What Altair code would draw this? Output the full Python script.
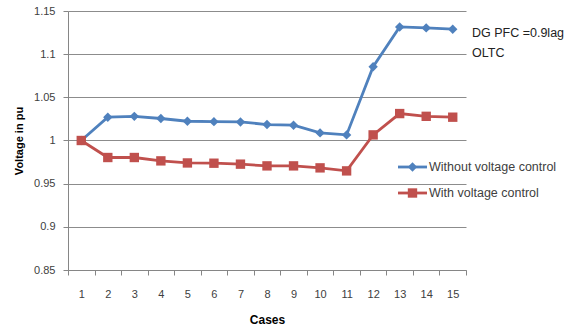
import altair as alt
import pandas as pd

cases = list(range(1, 16))
without_ctrl = [1.000, 1.027, 1.028, 1.0255, 1.0223, 1.0218, 1.0215, 1.0185, 1.0177,
                1.0088, 1.0065, 1.0855, 1.1315, 1.1304, 1.1289]
with_ctrl = [1.000, 0.9803, 0.9803, 0.9764, 0.974, 0.9737, 0.9726, 0.9706, 0.9706,
             0.9683, 0.9648, 1.0065, 1.0312, 1.028, 1.027]
series_names = ["Without voltage control", "With voltage control"]
colors = ["#4F81BD", "#C0504D"]
shapes = ["diamond", "square"]
y_ticks = [0.85, 0.9, 0.95, 1.0, 1.05, 1.1, 1.15]
notes = ["DG PFC =0.9lag", "OLTC"]

rows = []
for c, a, b in zip(cases, without_ctrl, with_ctrl):
    rows.append({"case": c, "series": series_names[0], "v": a})
    rows.append({"case": c, "series": series_names[1], "v": b})
df = pd.DataFrame(rows)

FONT = "Liberation Sans"

x = alt.X("case:O", title="Cases",
          scale=alt.Scale(paddingInner=0, paddingOuter=0),
          axis=alt.Axis(labelAngle=0, tickBand="extent", grid=False,
                        domainColor="#868686", tickColor="#868686", tickSize=5,
                        labelFont=FONT, labelFontSize=11, labelColor="#404040",
                        labelPadding=13, titleFont=FONT, titleFontSize=12,
                        titleFontWeight="bold", titleColor="#000000", titlePadding=15))
y = alt.Y("v:Q", title="Voltage in pu",
          scale=alt.Scale(domain=[0.85, 1.15], nice=False, zero=False),
          axis=alt.Axis(values=y_ticks, format="~g", gridColor="#8c8c8c", gridWidth=1,
                        domainColor="#868686", tickColor="#868686", tickSize=5,
                        labelFont=FONT, labelFontSize=11, labelColor="#404040",
                        labelPadding=8, titleFont=FONT, titleFontSize=11,
                        titleFontWeight="bold", titleColor="#000000", titlePadding=9))
color = alt.Color("series:N", scale=alt.Scale(domain=series_names, range=colors), legend=None)
shape = alt.Shape("series:N", scale=alt.Scale(domain=series_names, range=shapes), legend=None)

base = alt.Chart(df)
lines = base.mark_line(strokeWidth=2.8).encode(x=x, y=y, color=color, detail="series:N")
pts = base.mark_point(filled=True, opacity=1, size=88).encode(x=x, y=y, color=color, shape=shape)

# legend (manual, Excel style)
leg_layers = []
for i, (name, col, shp) in enumerate(zip(series_names, colors, shapes)):
    ly = 156 + 26 * i
    ldf = pd.DataFrame({"label": [name]})
    leg_layers.append(alt.Chart(ldf).mark_rule(color=col, strokeWidth=2.8).encode(
        x=alt.value(330), x2=alt.value(359), y=alt.value(ly)))
    leg_layers.append(alt.Chart(ldf).mark_point(filled=True, opacity=1, size=88, shape=shp,
                                                color=col).encode(
        x=alt.value(344.5), y=alt.value(ly)))
    leg_layers.append(alt.Chart(ldf).mark_text(align="left", baseline="middle", font=FONT,
                                               fontSize=12.5, color="#404040").encode(
        x=alt.value(361), y=alt.value(ly), text="label:N"))

note_layers = []
for i, t in enumerate(notes):
    ndf = pd.DataFrame({"t": [t]})
    note_layers.append(alt.Chart(ndf).mark_text(align="left", baseline="middle", font=FONT,
                                                fontSize=12.5, color="#222222").encode(
        x=alt.value(404), y=alt.value(22 + 20 * i), text="t:N"))

chart = alt.layer(lines, pts, *leg_layers, *note_layers).properties(
    width=398, height=259,
    autosize=alt.AutoSizeParams(type="none"),
    padding={"left": 68, "top": 11, "right": 99, "bottom": 58},
    background="white",
).configure_view(stroke=None)

chart.save("out.html", embed_options={"renderer": "svg", "actions": False})
